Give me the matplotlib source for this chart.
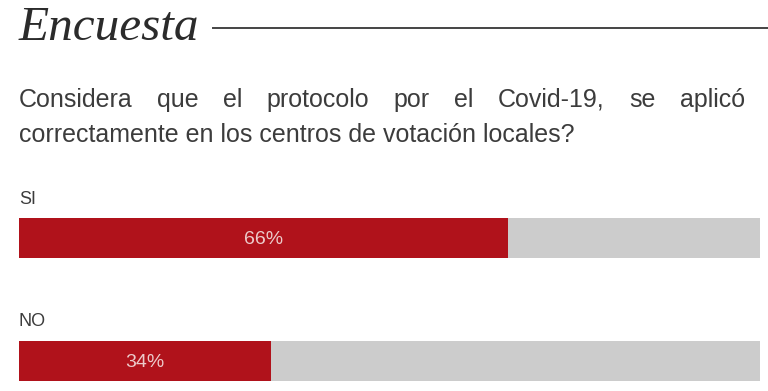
import matplotlib
matplotlib.use("Agg")
import matplotlib.pyplot as plt
from matplotlib import font_manager as fm

# datos de la encuesta
categorias = ["SI", "NO"]
porcentajes = [66, 34]
titulo = "Encuesta"
pregunta = ["Considera que el protocolo por el Covid-19, se aplicó",
            "correctamente en los centros de votación locales?"]

rojo = "#b0121b"
gris = "#cccccc"
texto = "#3c3c3c"

# Liberation Sans normal (no la Narrow)
ruta = [f for f in fm.findSystemFonts() if f.endswith("LiberationSans-Regular.ttf")]
sans = {"fname": ruta[0]} if ruta else {"family": "DejaVu Sans"}


def fp(size):
    return fm.FontProperties(size=size, **sans)


W, H = 768, 391
fig = plt.figure(figsize=(W / 100, H / 100), dpi=100)
fig.patch.set_facecolor("white")

# capa de texto en pixeles
ov = fig.add_axes([0, 0, 1, 1])
ov.set_xlim(0, W)
ov.set_ylim(H, 0)
ov.axis("off")

t = ov.text(19, 40, titulo, family="Liberation Serif", style="italic",
            fontsize=35.5, color="#2b2b2b", va="baseline", ha="left")
fig.canvas.draw()
r = fig.canvas.get_renderer()
bb = t.get_window_extent(r)
x_fin = bb.x1 * W / fig.bbox.width
ov.plot([x_fin + 13, W], [28, 28], color="#444444", lw=1.4)

# primera linea justificada
fs = 18
palabras = pregunta[0].split()
x0, x1 = 19, 745
objs = [ov.text(0, 107, p, fontproperties=fp(fs), color=texto,
                va="baseline", ha="left") for p in palabras]
fig.canvas.draw()
anchos = [o.get_window_extent(r).width * W / fig.bbox.width for o in objs]
hueco = (x1 - x0 - sum(anchos)) / (len(palabras) - 1)
x = x0
for o, a in zip(objs, anchos):
    o.set_x(x)
    x += a + hueco
ov.text(19, 142, pregunta[1], fontproperties=fp(fs), color=texto,
        va="baseline", ha="left")

# barras
h = 40 / 123
ax = fig.add_axes([19 / W, 10 / H, 741 / W, 163 / H])
ax.set_xlim(0, 100)
ax.set_ylim(1 + h / 2, -h / 2)
ax.axis("off")
ys = list(range(len(categorias)))
ax.barh(ys, [100] * len(ys), height=h, color=gris)
ax.barh(ys, porcentajes, height=h, color=rojo)
for y, c, v in zip(ys, categorias, porcentajes):
    ax.text(0, y - 39 / 123, c, fontproperties=fp(13),
            color=texto, va="center", ha="left")
    ax.text(v / 2, y + 0.01, f"{v}%", fontproperties=fp(14),
            color="#eccaca", va="center", ha="center")

fig.savefig("out.png", dpi=100, facecolor="white")
